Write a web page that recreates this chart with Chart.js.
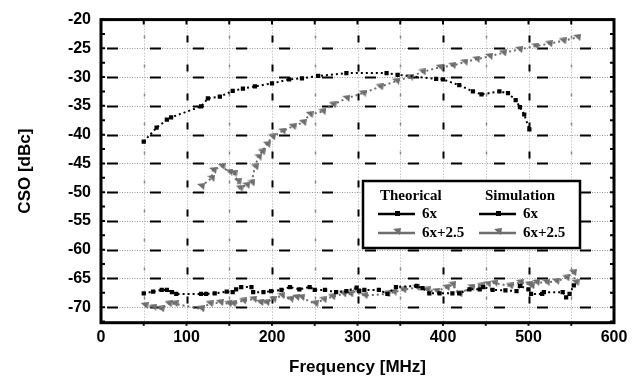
<!DOCTYPE html>
<html>
<head>
<meta charset="utf-8">
<script src="https://cdn.jsdelivr.net/npm/chart.js@4"></script>
<style>
  html, body { margin: 0; padding: 0; background: #fff; }
  #wrap { width: 642px; height: 383px; }
</style>
</head>
<body>
<div id="wrap"><canvas id="chart"></canvas></div>
<script>
// values: [frequency MHz, CSO dBc]
const theo6x = [[50,-41.2],[65,-38.8],[77,-37.4],[82,-37],[117,-35.1],[125,-33.7],[139,-33.4],[154,-32.4],[166,-32],[180,-31.6],[200,-31.1],[220,-30.4],[235,-30.2],[254,-29.8],[287,-29.3],[334,-29.3],[347,-29.6],[392,-30.3],[400,-30.4],[419,-31.4],[435,-32.5],[445,-33],[466,-32.5],[476,-32.8],[485,-34],[490,-35.2],[495,-36.5],[501,-39.1]];
const theo6x25 = [[117,-49],[129,-47.6],[131,-46.2],[141,-45.5],[150,-46.5],[155,-46.7],[160,-48.1],[162,-49.3],[170,-48.8],[176,-48.4],[180,-45.6],[184,-43.9],[188,-43],[194,-41.7],[200,-40.4],[212,-39.4],[224,-38.6],[236,-37.9],[244,-36.5],[259,-36],[271,-34.8],[287,-33.7],[306,-32.8],[326,-31.7],[345,-30.7],[361,-30],[376,-29.1],[396,-28.3],[411,-28],[425,-27.4],[439,-26.9],[454,-26.4],[470,-25.8],[489,-25.2],[508,-24.6],[524,-24.2],[540,-23.7],[557,-23.1]];
const sim6x = [[50,-67.6],[61,-67.3],[71,-67],[77,-67],[83,-67.4],[88,-67.7],[117,-67.7],[123,-67.7],[133,-67.6],[147,-67.3],[154,-67.4],[158,-66.9],[164,-66.5],[176,-66.5],[178,-67.4],[190,-67.4],[199,-67.2],[211,-67],[221,-66.5],[232,-66.9],[244,-66.5],[250,-67],[262,-67],[275,-67.4],[287,-67.2],[299,-66.6],[302,-67.2],[308,-67],[325,-67],[335,-67.7],[345,-66.5],[369,-66.3],[376,-66.7],[384,-67.6],[396,-67.6],[411,-67.6],[419,-67.6],[431,-66.9],[443,-66.9],[447,-66.5],[458,-67],[473,-67.1],[486,-67.2],[490,-66.3],[500,-66.9],[503,-67.7],[516,-67.7],[518,-67.4],[540,-67.4],[544,-68.3],[548,-67.7],[553,-66.2]];
const sim6x25 = [[51,-69.7],[61,-70],[70,-70.3],[79,-69.4],[86,-69.4],[117,-70.3],[127,-69.4],[139,-69.2],[149,-69.4],[154,-69.4],[166,-68.9],[178,-68.6],[186,-69.2],[193,-69.2],[201,-68.6],[211,-68],[221,-68.6],[228,-68.3],[234,-68.3],[250,-69.4],[260,-68.7],[270,-68.2],[283,-67.7],[291,-67.7],[299,-67.2],[308,-68],[334,-67.7],[342,-67.4],[353,-67],[369,-66.6],[381,-67],[392,-67.2],[404,-66.6],[411,-66.1],[419,-67.7],[433,-66.5],[444,-66.3],[452,-66],[460,-65.8],[478,-66.3],[490,-65.7],[500,-66],[503,-66.3],[509,-65.7],[521,-65.7],[532,-65.5],[544,-64.9],[552,-64],[555,-65.7]];

const yTicks = [-70, -65, -60, -55, -50, -45, -40, -35, -30, -25, -20];
const xTicks = [0, 100, 200, 300, 400, 500, 600];

const BLACK = '#000';
const GRAY = '#6e6e6e';

// little gray flag-like triangle used as marker
function flagMarker(color) {
  const c = document.createElement('canvas');
  c.width = 8; c.height = 7;
  const g = c.getContext('2d');
  g.fillStyle = color;
  g.beginPath();
  g.moveTo(0, 1); g.lineTo(8, 0); g.lineTo(7, 7); g.closePath();
  g.fill();
  return c;
}
const flag = flagMarker(GRAY);

const toXY = arr => arr.map(([x, y]) => ({ x, y }));

function series(label, data, color, marker) {
  return {
    label,
    data: toXY(data),
    borderColor: color,
    backgroundColor: color,
    borderWidth: 2,
    borderDash: [2, 3],
    pointStyle: marker,
    pointRadius: marker === 'rect' ? 3 : 4,
    pointBorderWidth: 0,
    tension: 0,
  };
}

const gridPlugin = {
  id: 'dashGrid',
  beforeDatasetsDraw(chart) {
    const { ctx, chartArea: a, scales: { x, y } } = chart;
    ctx.save();
    // vertical lines every 50 MHz
    for (let f = 50; f < 600; f += 50) {
      const px = Math.round(x.getPixelForValue(f)) + 0.5;
      ctx.lineWidth = 1;
      ctx.strokeStyle = '#aaa';
      ctx.setLineDash([1, 2]);
      ctx.beginPath(); ctx.moveTo(px, a.top); ctx.lineTo(px, a.bottom); ctx.stroke();
      const major = f % 100 === 0;
      ctx.strokeStyle = major ? '#000' : '#888';
      ctx.lineWidth = major ? 2 : 1.5;
      ctx.setLineDash(major ? [7, 22] : [3, 26]);
      ctx.lineDashOffset = -16;
      ctx.beginPath(); ctx.moveTo(px, a.top); ctx.lineTo(px, a.bottom); ctx.stroke();
    }
    // horizontal lines every 5 dBc
    yTicks.forEach(v => {
      if (v === -20) return;
      const py = Math.round(y.getPixelForValue(v)) + 0.5;
      ctx.lineWidth = 1;
      ctx.strokeStyle = '#999';
      ctx.setLineDash([1, 1.5]);
      ctx.beginPath(); ctx.moveTo(a.left, py); ctx.lineTo(a.right, py); ctx.stroke();
      ctx.strokeStyle = '#000';
      ctx.lineWidth = 2;
      ctx.setLineDash([11, 32]);
      ctx.lineDashOffset = -6;
      ctx.beginPath(); ctx.moveTo(a.left, py); ctx.lineTo(a.right, py); ctx.stroke();
    });
    ctx.restore();
  },
  afterDatasetsDraw(chart) {
    const { ctx, chartArea: a, scales: { x, y } } = chart;
    ctx.save();
    ctx.strokeStyle = '#000';
    ctx.setLineDash([]);
    // minor ticks on left/right, every 2.5
    ctx.lineWidth = 2;
    for (let v = -72.5; v <= -20; v += 2.5) {
      const py = y.getPixelForValue(v);
      ctx.beginPath();
      ctx.moveTo(a.left, py); ctx.lineTo(a.left + 4, py);
      ctx.moveTo(a.right, py); ctx.lineTo(a.right - 4, py);
      ctx.stroke();
    }
    for (let f = 50; f < 600; f += 50) {
      const px = x.getPixelForValue(f);
      ctx.beginPath();
      ctx.moveTo(px, a.top); ctx.lineTo(px, a.top + 5);
      ctx.moveTo(px, a.bottom); ctx.lineTo(px, a.bottom + 3);
      ctx.stroke();
    }
    // frame
    ctx.lineWidth = 3;
    ctx.strokeRect(a.left, a.top, a.right - a.left, a.bottom - a.top);
    ctx.restore();
  },
};

// two-column legend box: Theorical / Simulation
const legendPlugin = {
  id: 'boxLegend',
  afterDraw(chart) {
    const { ctx } = chart;
    const bx = 363, by = 181, bw = 217, bh = 67;
    ctx.save();
    ctx.fillStyle = '#fff';
    ctx.fillRect(bx, by, bw, bh);
    ctx.lineWidth = 2.5;
    ctx.strokeStyle = '#000';
    ctx.strokeRect(bx, by, bw, bh);

    ctx.font = 'bold 15px "Liberation Serif", serif';
    ctx.fillStyle = '#000';
    ctx.textBaseline = 'middle';
    ctx.fillText('Theorical', 380, 196);
    ctx.fillText('Simulation', 485, 196);

    const rows = [
      { label: '6x', color: BLACK, marker: 'rect', y: 214 },
      { label: '6x+2.5', color: GRAY, marker: 'flag', y: 233 },
    ];
    [378, 479].forEach(x0 => {
      rows.forEach(r => {
        ctx.strokeStyle = r.color;
        ctx.lineWidth = 2.5;
        ctx.beginPath(); ctx.moveTo(x0, r.y); ctx.lineTo(x0 + 37, r.y); ctx.stroke();
        if (r.marker === 'rect') {
          ctx.fillStyle = r.color;
          ctx.fillRect(x0 + 17, r.y - 3, 5, 5);
        } else {
          ctx.drawImage(flag, x0 + 15, r.y - 5);
        }
        ctx.fillStyle = '#000';
        ctx.fillText(r.label, x0 + 44, r.y);
      });
    });
    ctx.restore();
  },
};

const tickFont = { family: '"Liberation Sans", Arial, sans-serif', size: 16, weight: 'bold' };

new Chart(document.getElementById('chart'), {
  type: 'line',
  data: {
    datasets: [
      series('Theorical 6x', theo6x, BLACK, 'rect'),
      series('Theorical 6x+2.5', theo6x25, GRAY, flag),
      series('Simulation 6x', sim6x, BLACK, 'rect'),
      series('Simulation 6x+2.5', sim6x25, GRAY, flag),
    ],
  },
  options: {
    responsive: true,
    maintainAspectRatio: false,
    animation: false,
    layout: { padding: { top: 13, right: 28, left: 0, bottom: 0 } },
    plugins: { legend: { display: false }, tooltip: { enabled: false } },
    scales: {
      x: {
        type: 'linear',
        min: 0,
        max: 600,
        afterBuildTicks: s => { s.ticks = xTicks.map(v => ({ value: v })); },
        afterFit: s => { s.height = 60.3; },
        grid: { display: false, drawTicks: false },
        border: { display: false },
        ticks: { color: '#000', font: tickFont, padding: 5, maxRotation: 0 },
        title: {
          display: true,
          text: 'Frequency [MHz]',
          color: '#000',
          font: { family: '"Liberation Sans", Arial, sans-serif', size: 17, weight: 'bold' },
          padding: { top: 0, bottom: 5 },
        },
      },
      y: {
        min: -72.7,
        max: -20,
        afterBuildTicks: s => { s.ticks = yTicks.map(v => ({ value: v })); },
        afterFit: s => { s.width = 101; },
        grid: { display: false, drawTicks: false },
        border: { display: false },
        ticks: { color: '#000', font: tickFont, padding: 10 },
        title: {
          display: true,
          text: 'CSO [dBc]',
          color: '#000',
          font: { family: '"Liberation Sans", Arial, sans-serif', size: 17, weight: 'bold' },
          padding: { top: 15, bottom: 0 },
        },
      },
    },
  },
  plugins: [gridPlugin, legendPlugin],
});
</script>
</body>
</html>
